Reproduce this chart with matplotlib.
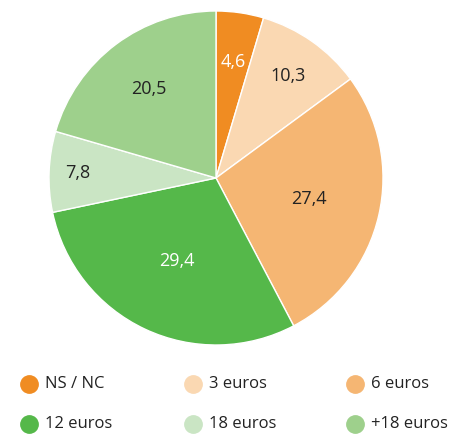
import numpy as np
import matplotlib.pyplot as plt

plt.rcParams['font.family'] = ['Open Sans', 'DejaVu Sans']

categories = ['NS / NC', '3 euros', '6 euros', '12 euros', '18 euros', '+18 euros']
values = [4.6, 10.3, 27.4, 29.4, 7.8, 20.5]
colors = ['#F08C22', '#FAD8B2', '#F5B673', '#55B84A', '#CAE5C4', '#9ED08C']
text_colors = ['white', '#222222', '#222222', 'white', '#222222', '#222222']
label_r = [0.70, 0.75, 0.57, 0.55, 0.83, 0.67]

W, H = 453, 434
fig = plt.figure(figsize=(W / 100, H / 100), dpi=100)

# pie axes: centre (216,178) px from top, radius 167 px
cx, cy, r = 216, 178, 167
ax = fig.add_axes([(cx - r) / W, (H - cy - r) / H, 2 * r / W, 2 * r / H])
wedges, _ = ax.pie(values, colors=colors, startangle=90, counterclock=False,
                   radius=1, wedgeprops=dict(edgecolor='white', linewidth=1))
ax.set_xlim(-1, 1)
ax.set_ylim(-1, 1)
ax.set_aspect('equal')
ax.axis('off')

for w, v, tc, d in zip(wedges, values, text_colors, label_r):
    ang = np.deg2rad((w.theta1 + w.theta2) / 2)
    ax.text(d * np.cos(ang), d * np.sin(ang), str(v).replace('.', ','),
            ha='center', va='center', fontsize=13, color=tc)

# legend, laid out row by row
col_x = [29, 193, 355]
row_y = [384, 424]
for i, (cat, c) in enumerate(zip(categories, colors)):
    x = col_x[i % 3]
    y = row_y[i // 3]
    fig.add_artist(plt.Line2D([x / W], [1 - y / H], marker='o', markersize=12.5,
                              color=c, linestyle='none', transform=fig.transFigure))
    fig.text((x + 16) / W, 1 - y / H, cat, ha='left', va='center',
             fontsize=12, color='#222222')

fig.savefig('out.png', dpi=100)
